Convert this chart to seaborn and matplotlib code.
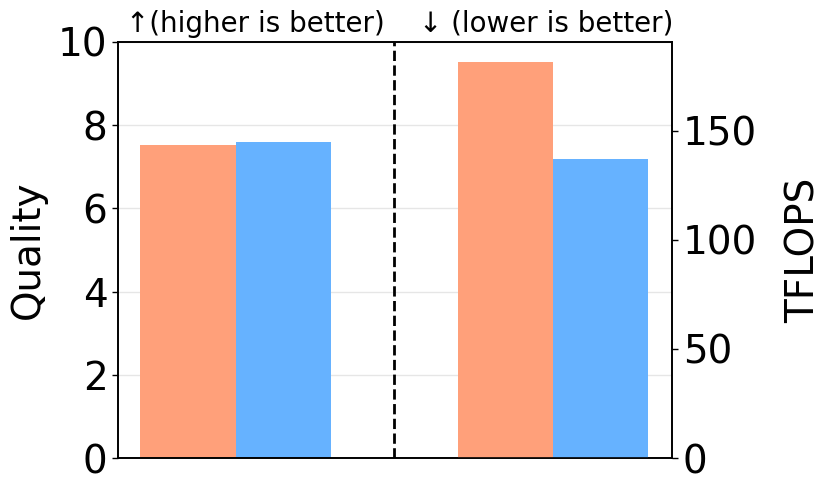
import matplotlib
matplotlib.use("Agg")
import matplotlib.pyplot as plt
import seaborn as sns
import pandas as pd

metrics = ["Quality", "TFLOPS"]
methods = ["Baseline", "Ours"]
quality_values = [7.52, 7.6]
tflops_values = [181.7, 137.0]
colors = ["#FFA07A", "#66B2FF"]

df_q = pd.DataFrame({"metric": ["Quality"] * 2, "method": methods, "value": quality_values})
df_t = pd.DataFrame({"metric": ["TFLOPS"] * 2, "method": methods, "value": tflops_values})

sns.set_style("white")
plt.rcParams["font.family"] = ["DejaVu Sans"]
plt.rcParams["text.color"] = "black"
plt.rcParams["axes.labelcolor"] = "black"
plt.rcParams["xtick.color"] = "black"
plt.rcParams["ytick.color"] = "black"

fig = plt.figure(figsize=(8.31, 4.92), dpi=100)
ax1 = fig.add_axes([0.142, 0.069, 0.667, 0.846])
ax2 = ax1.twinx()

sns.barplot(data=df_q, x="metric", y="value", hue="method", order=metrics,
            hue_order=methods, palette=colors, width=0.6, ax=ax1, legend=False,
            saturation=1, errorbar=None, linewidth=0)
sns.barplot(data=df_t, x="metric", y="value", hue="method", order=metrics,
            hue_order=methods, palette=colors, width=0.6, ax=ax2, legend=False,
            saturation=1, errorbar=None, linewidth=0)

ax1.set_xlim(-0.37, 1.375)
ax1.set_ylim(0, 10)
ax2.set_ylim(0, max(tflops_values) * 1.05)
ax1.set_xticks([])
ax1.set_xlabel("")
ax2.set_xlabel("")
ax1.set_yticks([0, 2, 4, 6, 8, 10])
ax2.set_yticks([0, 50, 100, 150])
ax1.yaxis.grid(True, color="#e6e6e6", linewidth=1)
ax1.set_axisbelow(True)
ax1.tick_params(axis="y", labelsize=28, length=4, width=1, left=True, direction="out", colors="black")
ax2.tick_params(axis="y", labelsize=28, length=4, width=1, right=True, direction="out", colors="black")
ax1.set_ylabel("Quality", fontsize=28, labelpad=8, color="black")
ax2.set_ylabel("TFLOPS", fontsize=28, labelpad=20, color="black")

for ax in (ax1, ax2):
    for s in ax.spines.values():
        s.set_color("black")
        s.set_linewidth(1.2)

ax1.axvline(0.5, color="black", linestyle="--", linewidth=2)

ax1.text(0.247, 1.01, "↑(higher is better)", transform=ax1.transAxes,
         ha="center", va="bottom", fontsize=20, color="black")
ax1.text(0.772, 1.01, "↓ (lower is better)", transform=ax1.transAxes,
         ha="center", va="bottom", fontsize=20, color="black")

fig.savefig("out.png", dpi=100)
